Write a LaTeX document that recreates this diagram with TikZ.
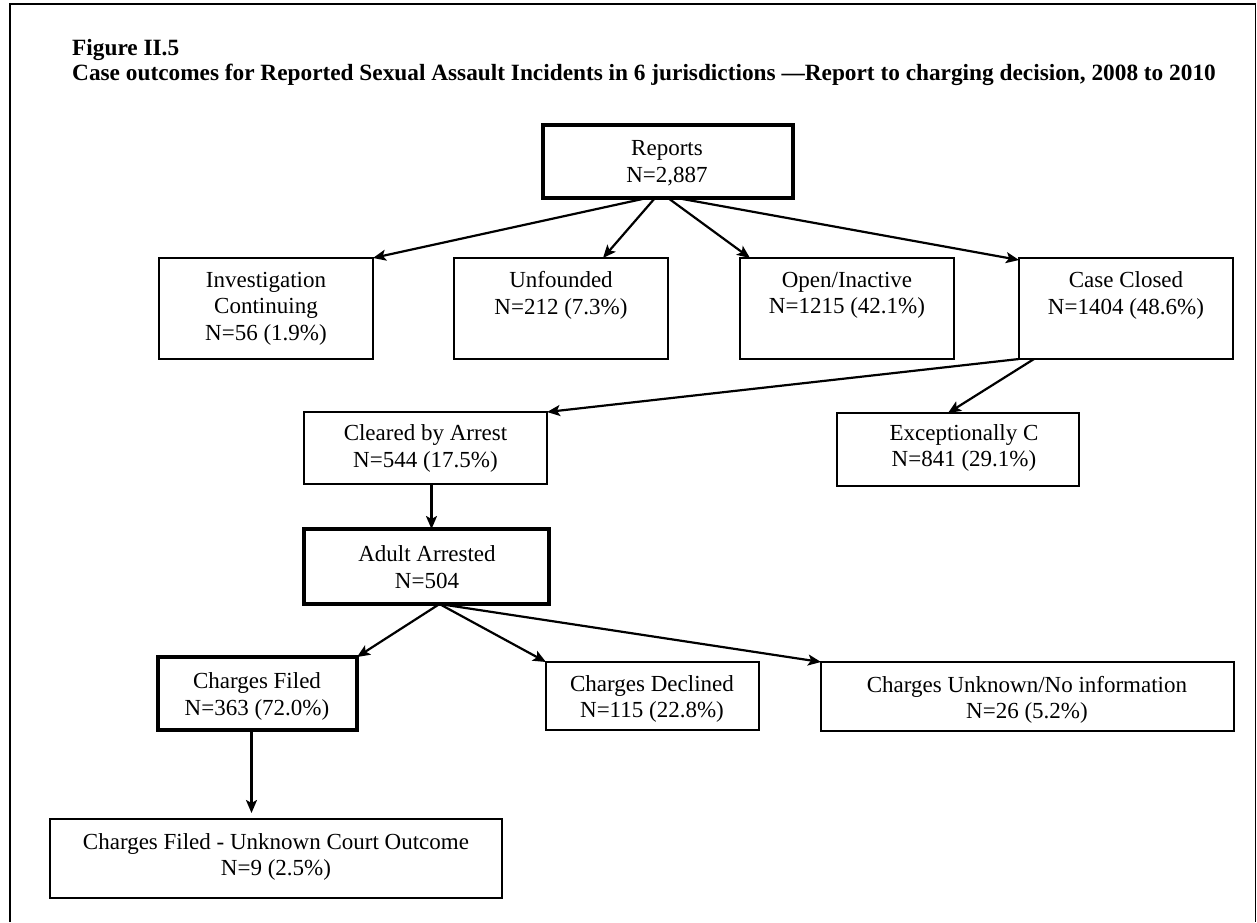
\documentclass[tikz,border=0pt]{standalone}
\usepackage{fontspec}
\setmainfont{Liberation Serif}
\usetikzlibrary{arrows.meta}
\begin{document}
\begin{tikzpicture}[x=1pt,y=-1pt,
  box/.style={draw, line width=1.6pt, inner sep=0pt, outer sep=0pt, anchor=north west},
  keybox/.style={box, line width=3.5pt},
  lbl/.style={font=\fontsize{23}{26.5}\selectfont, align=center, inner sep=0pt},
  flow/.style={line width=2.2pt, -{Stealth[length=13pt,width=11pt,inset=3pt]}},
  ttl/.style={font=\fontsize{23.3}{24}\selectfont\bfseries, anchor=base west, inner sep=0pt}]
\useasboundingbox (0,0) rectangle (1257,922);

% outer frame (open at the bottom)
\draw[line width=1.4pt] (10,922) -- (10,4) -- (1255.5,4) -- (1255.5,922);

% heading
\node[ttl] (fig) at (72,55) {Figure II.5};
\node[ttl] (cap) at (72,80) {Case outcomes for Reported Sexual Assault Incidents in 6 jurisdictions —Report to charging decision, 2008 to 2010};

% boxes
\node[keybox, minimum width=250pt, minimum height=73pt]  (rep)    at (543,125) {};
\node[box,    minimum width=214pt, minimum height=101pt] (inv)    at (159,258) {};
\node[box,    minimum width=214pt, minimum height=101pt] (unf)    at (454,258) {};
\node[box,    minimum width=214pt, minimum height=101pt] (open)   at (740,258) {};
\node[box,    minimum width=214pt, minimum height=101pt] (closed) at (1019,258) {};
\node[box,    minimum width=243pt, minimum height=72pt]  (clr)    at (304,412) {};
\node[box,    minimum width=242pt, minimum height=73pt]  (exc)    at (837,413) {};
\node[keybox, minimum width=245pt, minimum height=75pt]  (adult)  at (304,529) {};
\node[keybox, minimum width=199pt, minimum height=73pt]  (filed)  at (158,657) {};
\node[box,    minimum width=213pt, minimum height=68pt]  (decl)   at (546,662) {};
\node[box,    minimum width=413pt, minimum height=69pt]  (unk)    at (821,662) {};
\node[box,    minimum width=452pt, minimum height=79pt]  (court)  at (50,819) {};

% box texts
\node[lbl] (rep-t)    at (667,163)   {Reports\\N=2,887};
\node[lbl] (inv-t)    at (266,308.5) {Investigation\\Continuing\\N=56 (1.9\%)};
\node[lbl] (unf-t)    at (561,295.5) {Unfounded\\N=212 (7.3\%)};
\node[lbl] (open-t)   at (847,295.5) {Open/Inactive\\N=1215 (42.1\%)};
\node[lbl] (closed-t) at (1126,295.5) {Case Closed\\N=1404 (48.6\%)};
\node[lbl] (clr-t)    at (425.5,448.5) {Cleared by Arrest\\N=544 (17.5\%)};
\node[lbl] (exc-t)    at (964,448)   {Exceptionally C\\N=841 (29.1\%)};
\node[lbl] (adult-t)  at (427,567)   {Adult Arrested\\N=504};
\node[lbl] (filed-t)  at (257,696.5) {Charges Filed\\N=363 (72.0\%)};
\node[lbl] (decl-t)   at (652,699)   {Charges Declined\\N=115 (22.8\%)};
\node[lbl] (unk-t)    at (1027,700)  {Charges Unknown/No information\\N=26 (5.2\%)};
\node[lbl] (court-t)  at (276,857)   {Charges Filed - Unknown Court Outcome\\N=9 (2.5\%)};

% connectors
\draw[flow] ([xshift=-21pt]rep.south) -- (inv.north east);
\draw[flow] ([xshift=-13pt]rep.south) -- ([xshift=42pt]unf.north);
\draw[flow] (rep.south) -- ([xshift=10pt]open.north west);
\draw[flow] ([xshift=9pt]rep.south) -- ([yshift=-2pt]closed.north west);
\draw[flow] (closed.south west) -- (clr.north east);
\draw[flow] ([xshift=15pt]closed.south west) -- ([xshift=-10pt]exc.north);
\coordinate (ca) at ([xshift=6pt]clr.south);
\draw[flow] (ca) -- (ca |- adult.north);
\coordinate (ad) at ([xshift=13pt]adult.south);
\draw[flow] (ad) -- (filed.north east);
\draw[flow] (ad) -- (decl.north west);
\draw[flow] (ad) -- (unk.north west);
\coordinate (fd) at ([xshift=-6pt]filed.south);
\draw[flow, shorten >=6pt] (fd) -- (fd |- court.north);
\end{tikzpicture}
\end{document}
